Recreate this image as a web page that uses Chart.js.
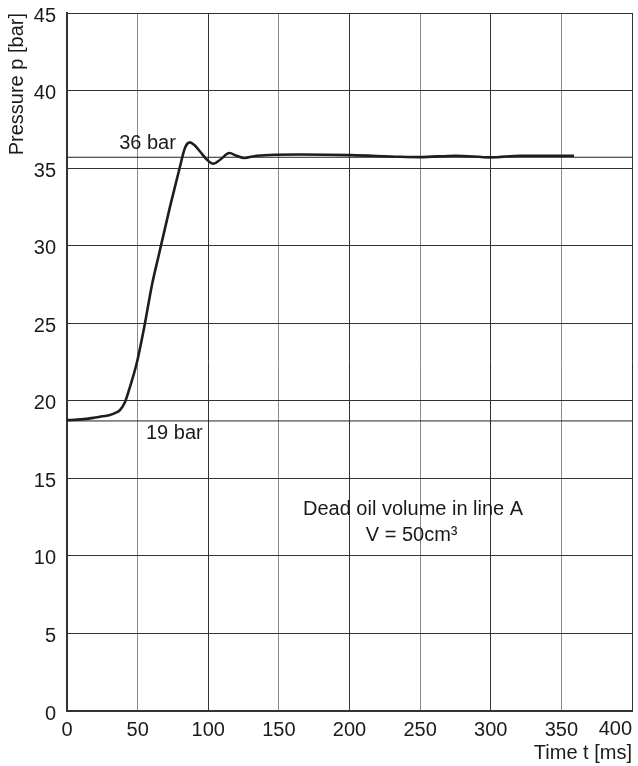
<!DOCTYPE html>
<html><head><meta charset="utf-8">
<script src="https://cdn.jsdelivr.net/npm/chart.js@4/dist/chart.umd.min.js"></script>
<style>html,body{margin:0;padding:0;background:#fff}</style>
</head><body>
<canvas id="c" width="638" height="766"></canvas>
<script>
// ---- data ----
const timeMs      = [0, 10, 18.6, 25, 30.4, 35, 37.5, 41, 44.6, 49.3, 55.2, 60, 65, 72.9, 80, 83.5, 87, 90, 94.2, 99, 103.6, 108.4, 115, 120, 125.4, 134.3, 165, 201, 236, 250, 275, 300, 321, 359];
const pressureBar = [18.75, 18.8, 18.9, 19.0, 19.08, 19.25, 19.4, 19.9, 20.9, 22.4, 25.0, 27.4, 29.4, 32.5, 35.1, 36.3, 36.66, 36.5, 36.07, 35.55, 35.28, 35.54, 35.97, 35.8, 35.65, 35.8, 35.88, 35.84, 35.73, 35.71, 35.8, 35.69, 35.8, 35.8];
const refLevels   = [35.7, 18.7];
const xRange      = [0, 400];
const yRange      = [0, 45];
const xStep = 50, yStep = 5;
const noteTexts   = ['36 bar', '19 bar', 'Dead oil volume in line A', 'V = 50cm³'];
const noteX       = [57, 76, 245, 244];
const noteY       = [36.6, 17.9, 13.0, 11.3];

const FONT = '"Liberation Sans", Arial, Helvetica, sans-serif';
const INK = '#1a1a1a';

const datasets = [{
  data: timeMs.map((t, i) => ({x: t, y: pressureBar[i]})),
  borderColor: '#1e1e1e', borderWidth: 2.6, pointRadius: 0,
  cubicInterpolationMode: 'monotone', fill: false
}];
refLevels.forEach(v => datasets.push({
  data: [{x: xRange[0], y: v}, {x: xRange[1], y: v}],
  borderColor: '#222', borderWidth: 1, pointRadius: 0, fill: false
}));

const notesPlugin = {
  id: 'notes',
  afterDraw(chart) {
    const {ctx, scales: {x, y}} = chart;
    ctx.save();
    ctx.fillStyle = INK;
    ctx.font = '20px ' + FONT;
    ctx.textAlign = 'center';
    ctx.textBaseline = 'middle';
    noteTexts.forEach((t, i) => ctx.fillText(t, x.getPixelForValue(noteX[i]), y.getPixelForValue(noteY[i])));
    // last x tick label, kept inside the canvas (right aligned on its tick)
    ctx.textAlign = 'right';
    ctx.fillText(String(xRange[1]), x.getPixelForValue(xRange[1]), x.top + 18);
    ctx.restore();
  }
};

new Chart(document.getElementById('c'), {
  type: 'line',
  data: {datasets},
  plugins: [notesPlugin],
  options: {
    responsive: false, animation: false, devicePixelRatio: 1,
    layout: {padding: {top: 13, right: 6, left: 0, bottom: 0}},
    plugins: {legend: {display: false}, tooltip: {enabled: false}},
    scales: {
      x: {
        type: 'linear', min: xRange[0], max: xRange[1],
        afterFit(s) { s.height = 55; s.paddingRight = 0; s.paddingLeft = 0; },
        ticks: {stepSize: xStep, padding: 7, color: INK, font: {family: FONT, size: 20},
          maxRotation: 0, autoSkip: false,
          callback: v => v === xRange[1] ? '' : String(v)},
        grid: {drawTicks: false, lineWidth: 1,
          color: c => (c.tick && c.tick.value % 100 === 0) ? '#333' : '#8a8a8a'},
        border: {display: true, color: '#333', width: 2},
        title: {display: true, text: 'Time t [ms]', align: 'end', color: INK,
          font: {family: FONT, size: 20}, padding: {top: 0, bottom: 1}}
      },
      y: {
        min: yRange[0], max: yRange[1],
        afterFit(s) { s.width = 67; s.paddingTop = 0; s.paddingBottom = 0; },
        ticks: {stepSize: yStep, padding: 11, labelOffset: 3, color: INK, font: {family: FONT, size: 20}},
        grid: {drawTicks: false, lineWidth: 1, color: '#333'},
        border: {display: true, color: '#333', width: 2},
        title: {display: true, text: 'Pressure p [bar]', align: 'end', color: INK,
          font: {family: FONT, size: 20}, padding: {top: 5, bottom: 0}}
      }
    }
  }
});
</script>
</body></html>
